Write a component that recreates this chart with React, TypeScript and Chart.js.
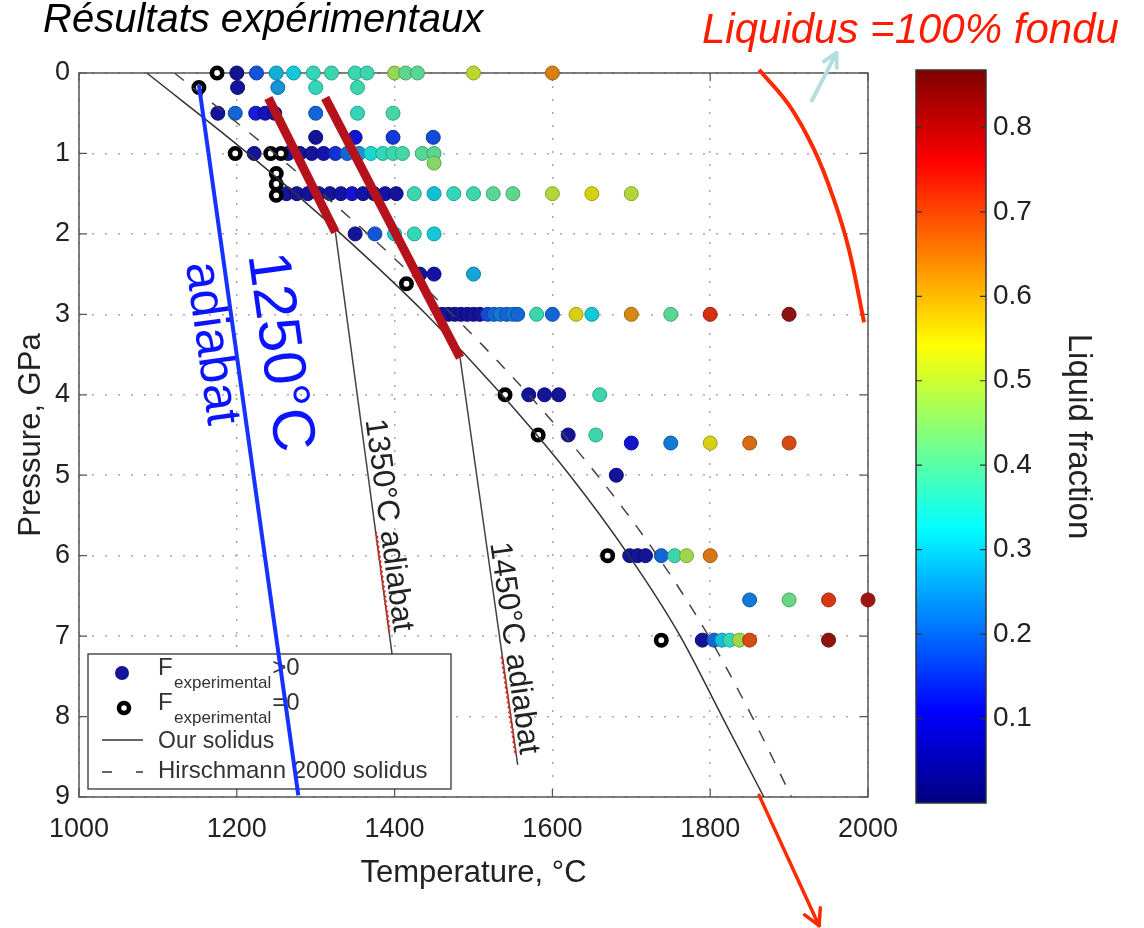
import React, { useEffect, useRef } from 'react';
import { Chart, registerables } from 'chart.js';

Chart.register(...registerables);

const FONT = '"Liberation Sans", Arial, Helvetica, sans-serif';
const TEXT = '#222222';

// ---------- axes ----------
const X_TICKS = [1000, 1200, 1400, 1600, 1800, 2000];
const Y_TICKS = [0, 1, 2, 3, 4, 5, 6, 7, 8, 9];
const CB_TICKS = [0.1, 0.2, 0.3, 0.4, 0.5, 0.6, 0.7, 0.8];
const F_MAX = 0.868;

// ---------- experiments with F > 0 (temperature °C, pressure GPa, liquid fraction) ----------
const meltT = [
  1200, 1225, 1250, 1272, 1297, 1320, 1350, 1365, 1400, 1414, 1429, 1500, 1600,
  1201, 1252, 1300, 1353,
  1176, 1198, 1224, 1236, 1248, 1300, 1353, 1398,
  1300, 1350, 1398, 1449,
  1222, 1265, 1280, 1295, 1310, 1325, 1340, 1355, 1370, 1385, 1398, 1410, 1435, 1450, 1450,
  1263, 1276, 1290, 1304, 1318, 1332, 1346, 1360, 1374, 1388, 1402, 1425, 1450, 1475, 1500, 1525, 1550, 1600, 1650, 1700,
  1350, 1375, 1400, 1425, 1450,
  1432, 1450, 1500,
  1460, 1468, 1476, 1484, 1492, 1500, 1508, 1518, 1526, 1534, 1542, 1550, 1556, 1580, 1600, 1630, 1650, 1700, 1750, 1800, 1900,
  1570, 1590, 1608, 1660,
  1620, 1655,
  1700, 1750, 1800, 1850, 1900,
  1681,
  1698, 1708, 1718, 1738, 1755, 1770, 1800,
  1850, 1900, 1950, 2000,
  1790, 1805, 1815, 1825, 1837, 1850, 1950,
];
const meltP = [
  0, 0, 0, 0, 0, 0, 0, 0, 0, 0, 0, 0, 0,
  0.18, 0.18, 0.18, 0.18,
  0.5, 0.5, 0.5, 0.5, 0.5, 0.5, 0.5, 0.5,
  0.8, 0.8, 0.8, 0.8,
  1, 1, 1, 1, 1, 1, 1, 1, 1, 1, 1, 1, 1, 1, 1.12,
  1.5, 1.5, 1.5, 1.5, 1.5, 1.5, 1.5, 1.5, 1.5, 1.5, 1.5, 1.5, 1.5, 1.5, 1.5, 1.5, 1.5, 1.5, 1.5, 1.5,
  2, 2, 2, 2, 2,
  2.5, 2.5, 2.5,
  3, 3, 3, 3, 3, 3, 3, 3, 3, 3, 3, 3, 3, 3, 3, 3, 3, 3, 3, 3, 3,
  4, 4, 4, 4,
  4.5, 4.5,
  4.6, 4.6, 4.6, 4.6, 4.6,
  5,
  6, 6, 6, 6, 6, 6, 6,
  6.55, 6.55, 6.55, 6.55,
  7.05, 7.05, 7.05, 7.05, 7.05, 7.05, 7.05,
];
const meltF = [
  0.03, 0.18, 0.28, 0.31, 0.36, 0.37, 0.37, 0.37, 0.47, 0.41, 0.40, 0.51, 0.64,
  0.04, 0.25, 0.36, 0.37,
  0.04, 0.20, 0.12, 0.08, 0.05, 0.20, 0.36, 0.38,
  0.04, 0.10, 0.15, 0.17,
  0.04, 0.04, 0.04, 0.04, 0.06, 0.14, 0.20, 0.25, 0.33, 0.36, 0.37, 0.38, 0.40, 0.40, 0.45,
  0.04, 0.04, 0.04, 0.04, 0.04, 0.05, 0.10, 0.05, 0.04, 0.05, 0.04, 0.37, 0.30, 0.36, 0.37, 0.40, 0.41, 0.50, 0.55, 0.50,
  0.04, 0.18, 0.32, 0.36, 0.31,
  0.04, 0.05, 0.27,
  0.04, 0.04, 0.04, 0.04, 0.04, 0.04, 0.04, 0.17, 0.20, 0.22, 0.20, 0.22, 0.20, 0.37, 0.20, 0.55, 0.31, 0.63, 0.40, 0.73, 0.84,
  0.04, 0.04, 0.04, 0.37,
  0.04, 0.37,
  0.10, 0.22, 0.55, 0.66, 0.70,
  0.04,
  0.04, 0.04, 0.04, 0.20, 0.37, 0.48, 0.65,
  0.22, 0.42, 0.72, 0.82,
  0.04, 0.20, 0.30, 0.36, 0.48, 0.70, 0.84,
];

// ---------- experiments with F = 0 ----------
const solidT = [1175, 1152, 1198, 1243, 1256, 1250, 1250, 1250, 1415, 1540, 1582, 1670, 1738];
const solidP = [0, 0.18, 1, 1, 1, 1.25, 1.38, 1.52, 2.62, 4, 4.5, 6, 7.05];

// ---------- solidus curves ----------
const solidusP = [0, 1, 2, 3, 4, 5, 6, 7, 8, 9];
const ourSolidusT = [1086, 1214, 1332, 1440, 1536, 1622, 1697, 1762, 1815, 1868];
const hirschSolidusT = [1121, 1248, 1366, 1473, 1570, 1657, 1733, 1798, 1853, 1903];

// ---------- adiabats ----------
const adiabat1350T = [1325, 1397];
const adiabat1350P = [1.98, 7.24];
const adiabat1450T = [1483, 1556];
const adiabat1450P = [3.54, 8.6];
const melt1350T = [1240, 1325];
const melt1350P = [0.31, 1.98];
const melt1450T = [1312, 1483];
const melt1450P = [0.31, 3.54];
const adiabat1250T = [1152, 1278];
const adiabat1250P = [0.15, 8.98];

// ---------- liquidus annotation ----------
const liquidusT = [1862, 1900, 1932, 1957, 1976, 1995];
const liquidusP = [-0.04, 0.4, 0.96, 1.58, 2.2, 3.1];
const liqArrowT = [1929, 1960];
const liqArrowP = [0.34, -0.25];
const downArrowT = [1862, 1938];
const downArrowP = [8.98, 10.6];

function jet(t: number): [number, number, number] {
  const c = (v: number) => Math.max(0, Math.min(1, v));
  return [c(1.5 - Math.abs(4 * t - 3)), c(1.5 - Math.abs(4 * t - 2)), c(1.5 - Math.abs(4 * t - 1))];
}
function jetCss(t: number, k: number, lift = 0) {
  const [r, g, b] = jet(t);
  const f = (v: number) => Math.round(Math.min(1, v * k + lift) * 255);
  return `rgb(${f(r)},${f(g)},${f(b)})`;
}

const xy = (T: number[], P: number[]) => T.map((t, i) => ({ x: t, y: P[i] }));

function lineDs(T: number[], P: number[], color: string, width: number, dash: number[], order: number, extra: any = {}) {
  return {
    data: xy(T, P),
    showLine: true,
    borderColor: color,
    borderWidth: width,
    borderDash: dash,
    pointRadius: 0,
    pointHoverRadius: 0,
    fill: false,
    clip: false,
    order,
    ...extra,
  };
}

function arrow(ctx: CanvasRenderingContext2D, x1: number, y1: number, x2: number, y2: number, color: string, w: number, head: number) {
  ctx.save();
  ctx.strokeStyle = color;
  ctx.lineWidth = w;
  ctx.lineCap = 'round';
  ctx.lineJoin = 'round';
  ctx.beginPath();
  ctx.moveTo(x1, y1);
  ctx.lineTo(x2, y2);
  ctx.stroke();
  const a = Math.atan2(y2 - y1, x2 - x1);
  ctx.beginPath();
  ctx.moveTo(x2 - head * Math.cos(a - 0.5), y2 - head * Math.sin(a - 0.5));
  ctx.lineTo(x2, y2);
  ctx.lineTo(x2 - head * Math.cos(a + 0.5), y2 - head * Math.sin(a + 0.5));
  ctx.stroke();
  ctx.restore();
}

function rotText(ctx: CanvasRenderingContext2D, text: string, cx: number, cy: number, angle: number, font: string, color: string, squiggle?: string) {
  ctx.save();
  ctx.translate(cx, cy);
  ctx.rotate(angle);
  ctx.font = font;
  ctx.fillStyle = color;
  ctx.textAlign = 'left';
  ctx.textBaseline = 'middle';
  const w = ctx.measureText(text).width;
  ctx.fillText(text, -w / 2, 0);
  if (squiggle) {
    const pre = ctx.measureText(text.slice(0, text.length - squiggle.length)).width;
    ctx.strokeStyle = '#e03020';
    ctx.lineWidth = 1.2;
    ctx.beginPath();
    let up = true;
    const start = -w / 2 + pre;
    for (let x = start; x <= w / 2; x += 2.5) {
      const y = 13 + (up ? -1 : 1);
      if (x === start) ctx.moveTo(x, y); else ctx.lineTo(x, y);
      up = !up;
    }
    ctx.stroke();
  }
  ctx.restore();
}

const BLUE_IDX = 9;

export default function App() {
  const mainRef = useRef<HTMLCanvasElement>(null);
  const cbRef = useRef<HTMLCanvasElement>(null);

  useEffect(() => {
    if (!mainRef.current || !cbRef.current) return;

    const meltColors = meltF.map((f) => jetCss(f / F_MAX, 0.76, 0.08));
    const meltEdges = meltF.map((f) => jetCss(f / F_MAX, 0.6, 0.04));

    const mainPlugin = {
      id: 'mainDecor',
      beforeDatasetsDraw(chart: any) {
        const { ctx, chartArea: ca, scales } = chart;
        ctx.save();
        ctx.strokeStyle = '#555';
        ctx.lineWidth = 1.5;
        ctx.strokeRect(ca.left, ca.top, ca.right - ca.left, ca.bottom - ca.top);
        ctx.lineWidth = 1.2;
        ctx.beginPath();
        X_TICKS.forEach((t) => {
          const x = scales.x.getPixelForValue(t);
          ctx.moveTo(x, ca.bottom); ctx.lineTo(x, ca.bottom - 8);
          ctx.moveTo(x, ca.top); ctx.lineTo(x, ca.top + 8);
        });
        Y_TICKS.forEach((p) => {
          const y = scales.y.getPixelForValue(p);
          ctx.moveTo(ca.left, y); ctx.lineTo(ca.left + 8, y);
          ctx.moveTo(ca.right, y); ctx.lineTo(ca.right - 8, y);
        });
        ctx.stroke();
        ctx.restore();
      },
      beforeDatasetDraw(chart: any, args: any) {
        if (args.index !== BLUE_IDX) return;
        const { ctx, chartArea: ca } = chart;
        const bx = ca.left + 9;
        const by = ca.bottom - 143;
        const bw = 363;
        const bh = 135;
        ctx.save();
        ctx.fillStyle = '#fff';
        ctx.fillRect(bx, by, bw, bh);
        ctx.strokeStyle = '#333';
        ctx.lineWidth = 1.3;
        ctx.strokeRect(bx, by, bw, bh);
        const sx = bx + 34;
        // row 1: filled dot
        ctx.beginPath();
        ctx.arc(sx, by + 19, 7, 0, Math.PI * 2);
        ctx.fillStyle = jetCss(0.04 / F_MAX, 0.76, 0.08);
        ctx.fill();
        // row 2: ring
        ctx.beginPath();
        ctx.arc(sx + 2, by + 54, 5, 0, Math.PI * 2);
        ctx.fillStyle = '#fff';
        ctx.fill();
        ctx.lineWidth = 4.5;
        ctx.strokeStyle = '#000';
        ctx.stroke();
        ctx.fillStyle = '#333';
        ctx.textAlign = 'left';
        ctx.textBaseline = 'alphabetic';
        const rows: [number, string][] = [[21, '>0'], [56, '=0']];
        rows.forEach(([dy, suffix]) => {
          ctx.font = `24px ${FONT}`;
          ctx.fillText('F', bx + 70, by + dy);
          ctx.font = `17px ${FONT}`;
          ctx.fillText('experimental', bx + 86, by + dy + 13);
          const sw = ctx.measureText('experimental').width;
          ctx.font = `24px ${FONT}`;
          ctx.fillText(suffix, bx + 87 + sw, by + dy);
        });
        // row 3: solid line
        ctx.strokeStyle = '#333';
        ctx.lineWidth = 1.5;
        ctx.beginPath();
        ctx.moveTo(bx + 14, by + 86);
        ctx.lineTo(bx + 55, by + 86);
        ctx.stroke();
        ctx.font = `23px ${FONT}`;
        ctx.fillText('Our solidus', bx + 70, by + 94);
        // row 4: dashed line
        ctx.setLineDash([10, 24]);
        ctx.beginPath();
        ctx.moveTo(bx + 14, by + 118);
        ctx.lineTo(bx + 55, by + 118);
        ctx.stroke();
        ctx.setLineDash([]);
        ctx.font = `24px ${FONT}`;
        ctx.fillText('Hirschmann 2000 solidus', bx + 70, by + 124);
        ctx.restore();
      },
      afterDraw(chart: any) {
        const { ctx, scales } = chart;
        const X = (t: number) => scales.x.getPixelForValue(t);
        const Y = (p: number) => scales.y.getPixelForValue(p);
        ctx.save();
        ctx.textAlign = 'left';
        ctx.textBaseline = 'alphabetic';
        ctx.font = `italic 40px ${FONT}`;
        ctx.fillStyle = '#000';
        ctx.fillText('Résultats expérimentaux', 43, 32);
        ctx.font = `italic 42px ${FONT}`;
        ctx.fillStyle = '#ff1a00';
        ctx.fillText('Liquidus =100% fondu', 702, 43);
        ctx.restore();

        const ang = (T: number[], P: number[]) => Math.atan2(Y(P[1]) - Y(P[0]), X(T[1]) - X(T[0]));
        const aBlue = ang(adiabat1250T, adiabat1250P);
        rotText(ctx, '1250°C', X(1253), Y(3.47), aBlue, `60px ${FONT}`, '#0a14ff');
        rotText(ctx, 'adiabat', X(1167), Y(3.36), aBlue, `50px ${FONT}`, '#0a14ff');
        rotText(ctx, '1350°C adiabat', X(1392), Y(5.62), ang(adiabat1350T, adiabat1350P), `31px ${FONT}`, TEXT, 'adiabat');
        rotText(ctx, '1450°C adiabat', X(1551), Y(7.15), ang(adiabat1450T, adiabat1450P), `31px ${FONT}`, TEXT, 'adiabat');

        arrow(ctx, X(liqArrowT[0]), Y(liqArrowP[0]), X(liqArrowT[1]), Y(liqArrowP[1]), '#b4dde2', 4, 15);
        arrow(ctx, X(downArrowT[0]), Y(downArrowP[0]), X(downArrowT[1]), Y(downArrowP[1]), '#ff2a00', 3.5, 18);
      },
    };

    const tickFont = { family: FONT, size: 27 };

    const main = new Chart(mainRef.current, {
      type: 'scatter',
      data: {
        datasets: [
          {
            data: xy(meltT, meltP),
            pointRadius: 7,
            pointHoverRadius: 7,
            pointBackgroundColor: meltColors,
            pointBorderColor: meltEdges,
            pointBorderWidth: 1,
            showLine: false,
            clip: false,
            order: 10,
          } as any,
          {
            data: xy(solidT, solidP),
            pointRadius: 5.2,
            pointHoverRadius: 5.2,
            pointBackgroundColor: '#fff',
            pointBorderColor: '#000',
            pointBorderWidth: 4.6,
            showLine: false,
            clip: false,
            order: 9,
          } as any,
          lineDs(ourSolidusT, solidusP, '#333', 1.5, [], 5, { cubicInterpolationMode: 'monotone' }),
          lineDs(hirschSolidusT, solidusP, '#444', 1.5, [12, 12], 5, { cubicInterpolationMode: 'monotone' }),
          lineDs(adiabat1350T, adiabat1350P, '#444', 1.5, [], 5),
          lineDs(adiabat1450T, adiabat1450P, '#444', 1.5, [], 5),
          lineDs(melt1350T, melt1350P, '#b5121b', 9, [], 3),
          lineDs(melt1450T, melt1450P, '#b5121b', 9, [], 3),
          lineDs(liquidusT, liquidusP, '#ff2a00', 4, [], 2, { tension: 0.4 }),
          lineDs(adiabat1250T, adiabat1250P, '#1533ff', 4, [], -10),
        ] as any,
      },
      options: {
        responsive: false,
        animation: false,
        events: [],
        layout: { padding: { left: 0, top: 73, right: 276, bottom: 0 } },
        plugins: { legend: { display: false }, tooltip: { enabled: false } },
        scales: {
          x: {
            type: 'linear',
            position: 'bottom',
            min: 1000,
            max: 2000,
            afterBuildTicks: (s: any) => { s.ticks = X_TICKS.map((v) => ({ value: v })); },
            afterFit: (s: any) => { s.height = 131; },
            ticks: { font: tickFont, color: TEXT, padding: 16, maxRotation: 0, autoSkip: false, callback: (v: any) => String(v) },
            grid: { color: '#a8a8a8', lineWidth: 1.5, drawTicks: false },
            border: { display: false, dash: [2, 11] },
            title: { display: true, text: 'Temperature, °C', font: { family: FONT, size: 31 }, color: TEXT, padding: { top: 0, bottom: 36 } },
          },
          y: {
            type: 'linear',
            position: 'left',
            reverse: true,
            min: 0,
            max: 9,
            afterBuildTicks: (s: any) => { s.ticks = Y_TICKS.map((v) => ({ value: v })); },
            afterFit: (s: any) => { s.width = 79; },
            ticks: { font: tickFont, color: TEXT, padding: 9, autoSkip: false, callback: (v: any) => String(v) },
            grid: { color: '#a8a8a8', lineWidth: 1.5, drawTicks: false },
            border: { display: false, dash: [2, 11] },
            title: { display: true, text: 'Pressure, GPa', font: { family: FONT, size: 31 }, color: TEXT, padding: { top: 13, bottom: 0 } },
          },
        },
      } as any,
      plugins: [mainPlugin],
    });

    const cbPlugin = {
      id: 'colorbar',
      afterDraw(chart: any) {
        const { ctx, chartArea: ca, scales } = chart;
        const s = scales.y;
        const y0 = s.getPixelForValue(0);
        const y1 = s.getPixelForValue(F_MAX);
        const g = ctx.createLinearGradient(0, y0, 0, y1);
        const N = 64;
        for (let i = 0; i <= N; i++) g.addColorStop(i / N, jetCss(i / N, 1));
        ctx.save();
        ctx.fillStyle = g;
        ctx.fillRect(ca.left, y1, ca.right - ca.left, y0 - y1);
        ctx.strokeStyle = '#333';
        ctx.lineWidth = 1.5;
        ctx.strokeRect(ca.left, y1, ca.right - ca.left, y0 - y1);
        ctx.lineWidth = 1.2;
        ctx.beginPath();
        CB_TICKS.forEach((v) => {
          const y = s.getPixelForValue(v);
          ctx.moveTo(ca.left, y); ctx.lineTo(ca.left + 6, y);
          ctx.moveTo(ca.right, y); ctx.lineTo(ca.right - 6, y);
        });
        ctx.stroke();
        ctx.restore();
      },
    };

    const cb = new Chart(cbRef.current, {
      type: 'scatter',
      data: { datasets: [] },
      options: {
        responsive: false,
        animation: false,
        events: [],
        layout: { padding: { left: 36, top: 70, right: 0, bottom: 125 } },
        plugins: { legend: { display: false }, tooltip: { enabled: false } },
        scales: {
          x: { type: 'linear', display: false, min: 0, max: 1 },
          y: {
            type: 'linear',
            position: 'right',
            min: 0,
            max: F_MAX,
            afterBuildTicks: (s: any) => { s.ticks = CB_TICKS.map((v) => ({ value: v })); },
            afterFit: (s: any) => { s.width = 158; },
            ticks: { font: { family: FONT, size: 28 }, color: TEXT, padding: 7, autoSkip: false, callback: (v: any) => Number(v).toFixed(1) },
            grid: { display: false, drawTicks: false },
            border: { display: false },
            title: { display: true, text: 'Liquid fraction', font: { family: FONT, size: 33 }, color: TEXT, padding: { top: 46, bottom: 0 } },
          },
        },
      } as any,
      plugins: [cbPlugin],
    });

    return () => {
      main.destroy();
      cb.destroy();
    };
  }, []);

  return (
    <div style={{ position: 'absolute', left: 0, top: 0, width: 1144, height: 928, background: '#fff', overflow: 'hidden' }}>
      <canvas ref={mainRef} width={1144} height={928} style={{ position: 'absolute', left: 0, top: 0 }} />
      <canvas ref={cbRef} width={264} height={928} style={{ position: 'absolute', left: 880, top: 0 }} />
    </div>
  );
}
